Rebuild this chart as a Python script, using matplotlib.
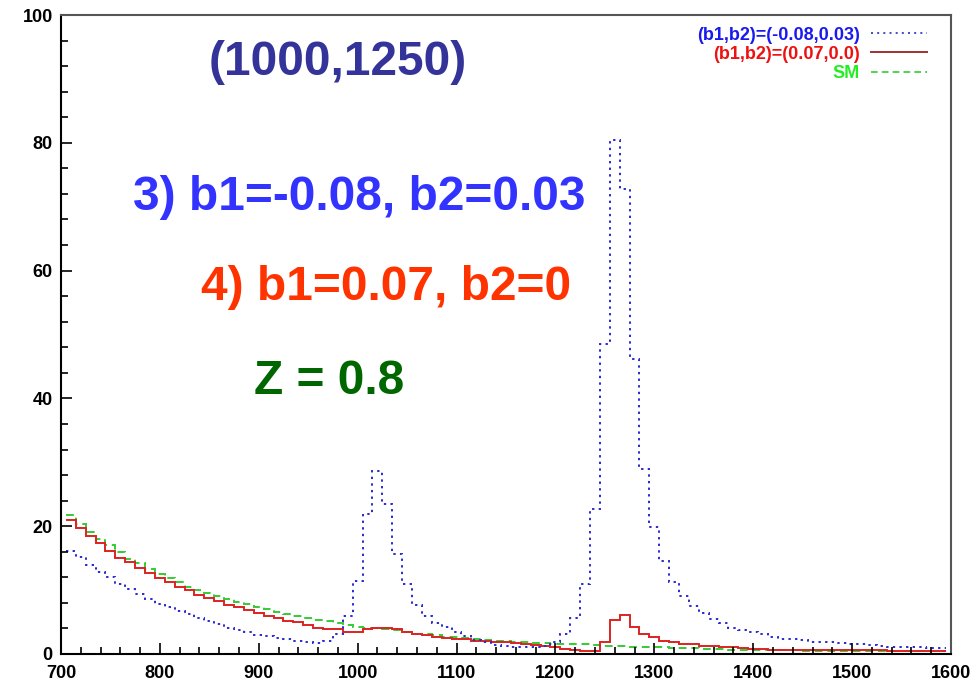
import numpy as np
import matplotlib
matplotlib.use("Agg")
import matplotlib.pyplot as plt
from matplotlib.lines import Line2D
from matplotlib.ticker import MultipleLocator

plt.rcParams['font.family'] = ['Liberation Sans', 'DejaVu Sans']
plt.rcParams['font.weight'] = 'bold'

# histogram binning (10 GeV bins)
bin_lo = 705
bin_w = 10

# (b1,b2)=(-0.08,0.03)
blue_vals = [16.1, 15.2, 13.9, 12.8, 12.0, 11.0, 10.1, 9.4, 8.6, 7.9,
             7.3, 6.8, 6.2, 5.6, 5.1, 4.7, 4.1, 3.8, 3.4, 3.0,
             2.8, 2.5, 2.3, 2.1, 1.8, 1.7, 2.0, 3.2, 6.0, 11.5,
             21.9, 28.7, 23.4, 15.7, 10.9, 7.7, 6.0, 4.8, 4.2, 3.5,
             2.8, 2.2, 1.9, 1.4, 1.2, 1.1, 1.1, 1.1, 1.3, 1.9,
             3.1, 5.6, 11.0, 22.7, 48.5, 80.5, 72.8, 46.2, 28.9, 19.8,
             14.6, 11.2, 9.0, 7.5, 6.4, 5.5, 4.8, 4.1, 3.7, 3.5,
             3.2, 2.7, 2.4, 2.3, 2.2, 1.9, 1.9, 1.8, 1.7, 1.6,
             1.5, 1.4, 1.25, 1.15, 1.15, 1.1, 1.05, 1.0, 0.9]

# (b1,b2)=(0.07,0.0)
red_vals = [20.9, 19.7, 18.4, 17.3, 16.1, 15.1, 14.4, 13.5, 12.7, 11.9,
            11.2, 10.5, 10.0, 9.3, 8.7, 8.3, 7.7, 7.4, 6.9, 6.4,
            5.9, 5.6, 5.2, 5.0, 4.5, 4.0, 3.9, 3.9, 3.5, 3.5,
            3.9, 4.1, 4.1, 3.9, 3.5, 3.1, 2.9, 2.7, 2.5, 2.4,
            2.3, 2.1, 2.0, 1.9, 1.8, 1.7, 1.5, 1.4, 1.2, 1.1,
            0.8, 0.7, 0.5, 0.5, 1.8, 5.3, 6.1, 4.2, 3.1, 2.6,
            2.1, 1.8, 1.6, 1.6, 1.3, 1.25, 1.05, 1.05, 1.0, 0.8,
            0.8, 0.7, 0.7, 0.7, 0.7, 0.65, 0.6, 0.6, 0.6, 0.55,
            0.55, 0.55, 0.55, 0.5, 0.4, 0.4, 0.4, 0.4, 0.4]

# SM
green_vals = [21.8, 20.4, 19.1, 18.0, 17.0, 15.9, 14.9, 14.2, 13.3, 12.5,
              11.9, 11.2, 10.5, 10.0, 9.5, 9.0, 8.6, 8.2, 7.8, 7.4,
              7.0, 6.6, 6.3, 6.0, 5.6, 5.3, 5.1, 4.8, 4.5, 4.3,
              4.1, 4.0, 3.9, 3.7, 3.5, 3.2, 3.1, 2.9, 2.7, 2.6,
              2.5, 2.4, 2.2, 2.1, 2.0, 1.9, 1.8, 1.75, 1.7, 1.6,
              1.6, 1.55, 1.5, 1.35, 1.3, 1.3, 1.3, 1.15, 1.15, 1.1,
              1.1, 0.95, 0.9, 0.9, 0.85, 0.8, 0.75, 0.7, 0.7, 0.65,
              0.6, 0.55, 0.55, 0.55, 0.5, 0.5, 0.45, 0.45, 0.45, 0.45,
              0.45, 0.45, 0.45, 0.45, 0.45, 0.45, 0.45, 0.45, 0.45]

labels = ["(b1,b2)=(-0.08,0.03)", "(b1,b2)=(0.07,0.0)", "SM"]

edges = bin_lo + bin_w * np.arange(len(red_vals) + 1)

fig = plt.figure(figsize=(9.79, 6.86), dpi=100)
ax = fig.add_axes([61/979, 1 - 654/686, 890/979, 639/686])

ax.stairs(green_vals, edges, baseline=None, color='#33cc33', lw=1.4, linestyle=(0, (4, 2.5)))
ax.stairs(red_vals, edges, baseline=None, color='#dd2222', lw=1.4)
ax.stairs(blue_vals, edges, baseline=None, color='#2a2acc', lw=1.4, linestyle=(0, (1.2, 2.2)))

ax.set_xlim(700, 1600)
ax.set_ylim(0, 100)
ax.xaxis.set_major_locator(MultipleLocator(100))
ax.xaxis.set_minor_locator(MultipleLocator(20))
ax.yaxis.set_major_locator(MultipleLocator(20))
ax.yaxis.set_minor_locator(MultipleLocator(4))
ax.tick_params(which='both', direction='in', top=False, right=False, width=1.2, labelsize=13)
ax.tick_params(which='major', length=8)
ax.tick_params(which='minor', length=5)
ax.tick_params(axis='x', pad=8)
ax.tick_params(axis='y', pad=6)

for s in ['left', 'bottom']:
    ax.spines[s].set_linewidth(1.5)
    ax.spines[s].set_color('black')
for s in ['top', 'right']:
    ax.spines[s].set_linewidth(1.5)
    ax.spines[s].set_color('#555555')

# big annotations
ax.text(0.311, 0.926, "(1000,1250)", transform=ax.transAxes, ha='center', va='center',
        fontsize=34.5, fontweight='bold', color='#333399')
ax.text(0.335, 0.715, "3) b1=-0.08, b2=0.03", transform=ax.transAxes, ha='center', va='center',
        fontsize=34.5, fontweight='bold', color='#3333ff')
ax.text(0.365, 0.574, "4) b1=0.07, b2=0", transform=ax.transAxes, ha='center', va='center',
        fontsize=34.5, fontweight='bold', color='#ff3300')
ax.text(0.301, 0.427, "Z = 0.8", transform=ax.transAxes, ha='center', va='center',
        fontsize=34.5, fontweight='bold', color='#006600')

# legend
handles = [Line2D([], [], color='#2a2acc', lw=1.2, linestyle=(0, (1.2, 2.5))),
           Line2D([], [], color='#a03030', lw=1.4),
           Line2D([], [], color='#33cc33', lw=1.2, linestyle=(0, (4, 2.5)))]
leg = ax.legend(handles, labels, loc='upper right', bbox_to_anchor=(0.973, 0.982),
                frameon=False, markerfirst=False, fontsize=13, handlelength=3.1,
                handletextpad=0.6, labelspacing=0.12, borderpad=0, borderaxespad=0)
for t, c in zip(leg.get_texts(), ['#1a1aee', '#ee1111', '#22ee22']):
    t.set_color(c)
    t.set_fontweight('bold')

fig.savefig("out.png", dpi=100)
